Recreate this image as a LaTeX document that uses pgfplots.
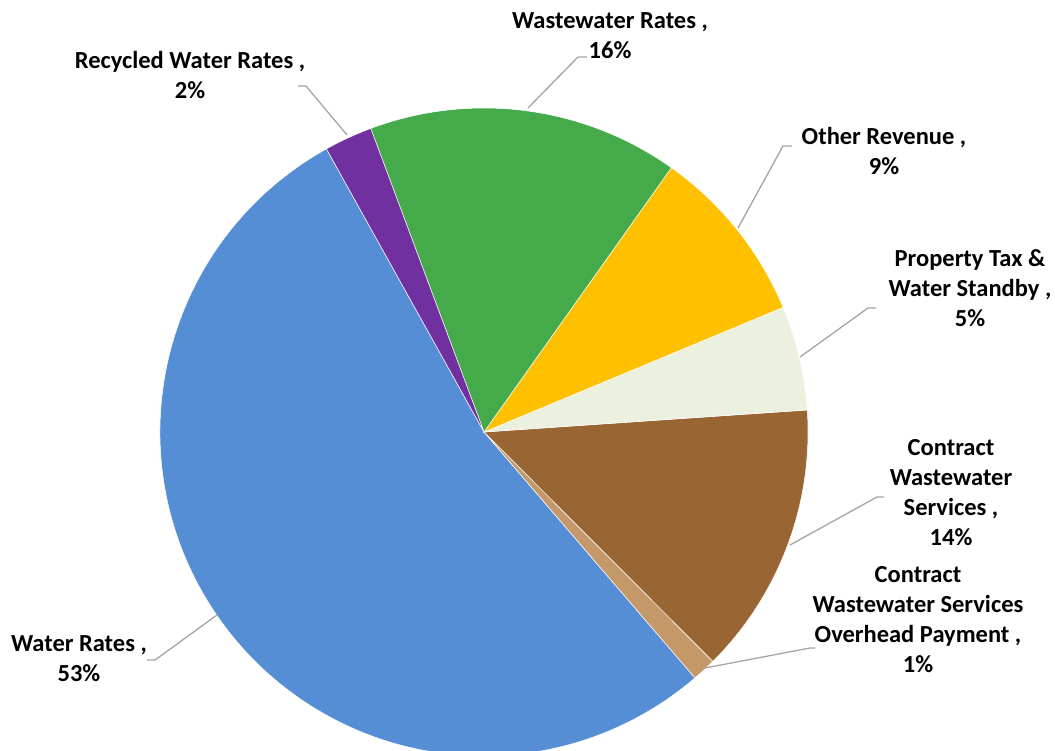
\documentclass[border=0pt]{standalone}
\usepackage{pgfplots}
\pgfplotsset{compat=1.18}
\usepackage{fontspec}
\setmainfont{Carlito}
\definecolor{cWater}{RGB}{85,142,213}
\definecolor{cOver}{RGB}{196,152,104}
\definecolor{cContract}{RGB}{153,102,51}
\definecolor{cProp}{RGB}{235,241,222}
\definecolor{cOther}{RGB}{255,192,0}
\definecolor{cWaste}{RGB}{68,170,74}
\definecolor{cRecyc}{RGB}{112,48,160}
\definecolor{cLead}{RGB}{165,165,165}
\begin{document}
\begin{tikzpicture}
\begin{axis}[scale only axis, width=1055pt, height=750pt,
  xmin=0, xmax=1055, ymin=0, ymax=750, y dir=reverse,
  axis line style={draw=none}, xtick=\empty, ytick=\empty, clip=true]
\def\R{324pt}
% slices: percentages (Water 53.2, Overhead 1.2, Contract 13.6, Property 5.2, Other 8.9, Wastewater 15.5, Recycled 2.4)
\fill[cWater, draw=white, line width=0.5pt] (axis cs:484,432) -- ++(119.1:\R) arc[start angle=119.1, delta angle={3.6*53.2}, radius=\R] -- cycle;
\fill[cOver, draw=white, line width=0.5pt] (axis cs:484,432) -- ++(310.62:\R) arc[start angle=310.62, delta angle={3.6*1.2}, radius=\R] -- cycle;
\fill[cContract, draw=white, line width=0.5pt] (axis cs:484,432) -- ++(314.94:\R) arc[start angle=314.94, delta angle={3.6*13.6}, radius=\R] -- cycle;
\fill[cProp, draw=white, line width=0.5pt] (axis cs:484,432) -- ++(363.9:\R) arc[start angle=363.9, delta angle={3.6*5.2}, radius=\R] -- cycle;
\fill[cOther, draw=white, line width=0.5pt] (axis cs:484,432) -- ++(382.62:\R) arc[start angle=382.62, delta angle={3.6*8.9}, radius=\R] -- cycle;
\fill[cWaste, draw=white, line width=0.5pt] (axis cs:484,432) -- ++(414.66:\R) arc[start angle=414.66, delta angle={3.6*15.5}, radius=\R] -- cycle;
\fill[cRecyc, draw=white, line width=0.5pt] (axis cs:484,432) -- ++(470.46:\R) arc[start angle=470.46, delta angle={3.6*2.4}, radius=\R] -- cycle;
% leader lines
\draw[cLead, line width=1.3pt] (axis cs:347,135) -- (axis cs:306,86) -- (axis cs:298,86);
\draw[cLead, line width=1.3pt] (axis cs:528,108) -- (axis cs:578,57) -- (axis cs:587,57);
\draw[cLead, line width=1.3pt] (axis cs:738,228) -- (axis cs:783,146) -- (axis cs:792,146);
\draw[cLead, line width=1.3pt] (axis cs:800,357) -- (axis cs:868,308) -- (axis cs:876,308);
\draw[cLead, line width=1.3pt] (axis cs:790,545) -- (axis cs:877,497) -- (axis cs:884,497);
\draw[cLead, line width=1.3pt] (axis cs:705,668) -- (axis cs:810,648) -- (axis cs:815,648);
\draw[cLead, line width=1.3pt] (axis cs:217,615) -- (axis cs:155,660) -- (axis cs:147,660);
% labels
\tikzset{lab/.style={font=\fontsize{24.5}{30}\selectfont\bfseries, align=center, inner sep=0pt, text=black}}
\node[lab] at (axis cs:190,75) {Recycled Water Rates ,\\2\%};
\node[lab] at (axis cs:610,36) {Wastewater Rates ,\\16\%};
\node[lab] at (axis cs:884,151) {Other Revenue ,\\9\%};
\node[lab] at (axis cs:970,288) {Property Tax \&\\Water Standby ,\\5\%};
\node[lab] at (axis cs:951,493) {Contract\\Wastewater\\Services ,\\14\%};
\node[lab] at (axis cs:918,620) {Contract\\Wastewater Services\\Overhead Payment ,\\1\%};
\node[lab] at (axis cs:79,659) {Water Rates ,\\53\%};
\end{axis}
\end{tikzpicture}
\end{document}
